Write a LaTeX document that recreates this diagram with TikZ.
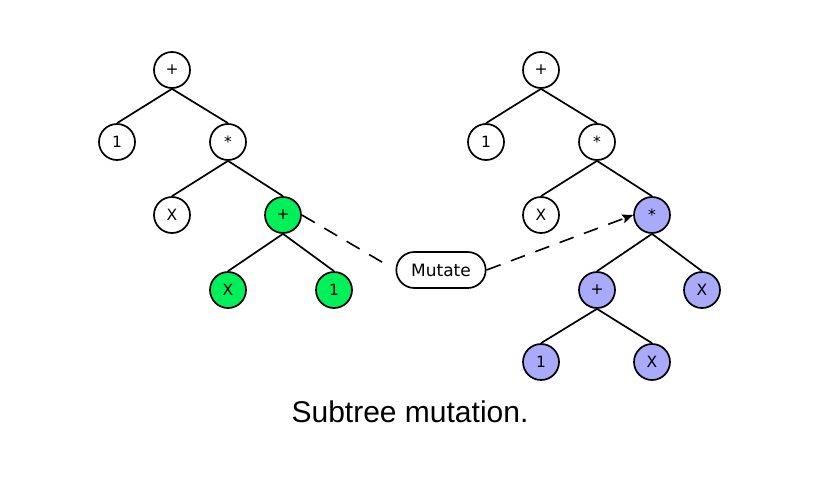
\documentclass[tikz,border=0pt]{standalone}
\usepackage{fontspec}
\setmainfont{DejaVu Sans}
\newfontfamily\capfont{Liberation Sans}
\usetikzlibrary{shapes.misc,arrows.meta}
\definecolor{gpgreen}{RGB}{0,240,90}
\definecolor{gpblue}{RGB}{170,170,250}
\begin{document}
\begin{tikzpicture}[x=1pt,y=-1pt,
  tn/.style={circle,draw=black,line width=1.7pt,minimum size=36pt,inner sep=0pt,font=\fontsize{15.5}{15.5}\selectfont,fill=white},
  gn/.style={tn,fill=gpgreen},
  bn/.style={tn,fill=gpblue},
  edge/.style={line width=1.7pt},
  mut/.style={line width=1.6pt,dash pattern=on 15pt off 11pt},
  mbox/.style={rounded rectangle,draw=black,line width=1.7pt,minimum width=96pt,minimum height=36pt,font=\fontsize{17}{17}\selectfont,fill=white}]
\useasboundingbox (0,0) rectangle (824,479);
% left tree
\node[tn] (la) at (172,70) {+};
\node[tn] (lb) at (117,142) {1};
\node[tn] (lc) at (228,142) {*};
\node[tn] (ld) at (172,215) {X};
\node[gn] (le) at (283,215) {+};
\node[gn] (lf) at (228,290) {X};
\node[gn] (lg) at (334,290) {1};
% right tree
\node[tn] (ra) at (541,70) {+};
\node[tn] (rb) at (486,142) {1};
\node[tn] (rc) at (597,142) {*};
\node[tn] (rd) at (541,215) {X};
\node[bn] (re) at (652,215) {*};
\node[bn] (rf) at (597,290) {+};
\node[bn] (rg) at (702,290) {X};
\node[bn] (rh) at (541,362) {1};
\node[bn] (ri) at (652,362) {X};
% mutate
\node[mbox] (m) at (441,270) {Mutate};
\draw[edge] (la.south) -- (lb.north);
\draw[edge] (la.south) -- (lc.north);
\draw[edge] (lc.south) -- (ld.north);
\draw[edge] (lc.south) -- (le.north);
\draw[edge] (le.south) -- (lf.north);
\draw[edge] (le.south) -- (lg.north);
\draw[edge] (ra.south) -- (rb.north);
\draw[edge] (ra.south) -- (rc.north);
\draw[edge] (rc.south) -- (rd.north);
\draw[edge] (rc.south) -- (re.north);
\draw[edge] (re.south) -- (rf.north);
\draw[edge] (re.south) -- (rg.north);
\draw[edge] (rf.south) -- (rh.north);
\draw[edge] (rf.south) -- (ri.north);
\draw[mut,shorten >=10pt] (le.east) -- (m.west);
\draw[mut,-{Stealth[length=11pt,width=9pt,inset=2pt]}] (m.east) -- (re.west);
\node[font=\capfont\fontsize{30}{30}\selectfont] (cap) at (410,412) {Subtree mutation.};
\end{tikzpicture}
\end{document}
